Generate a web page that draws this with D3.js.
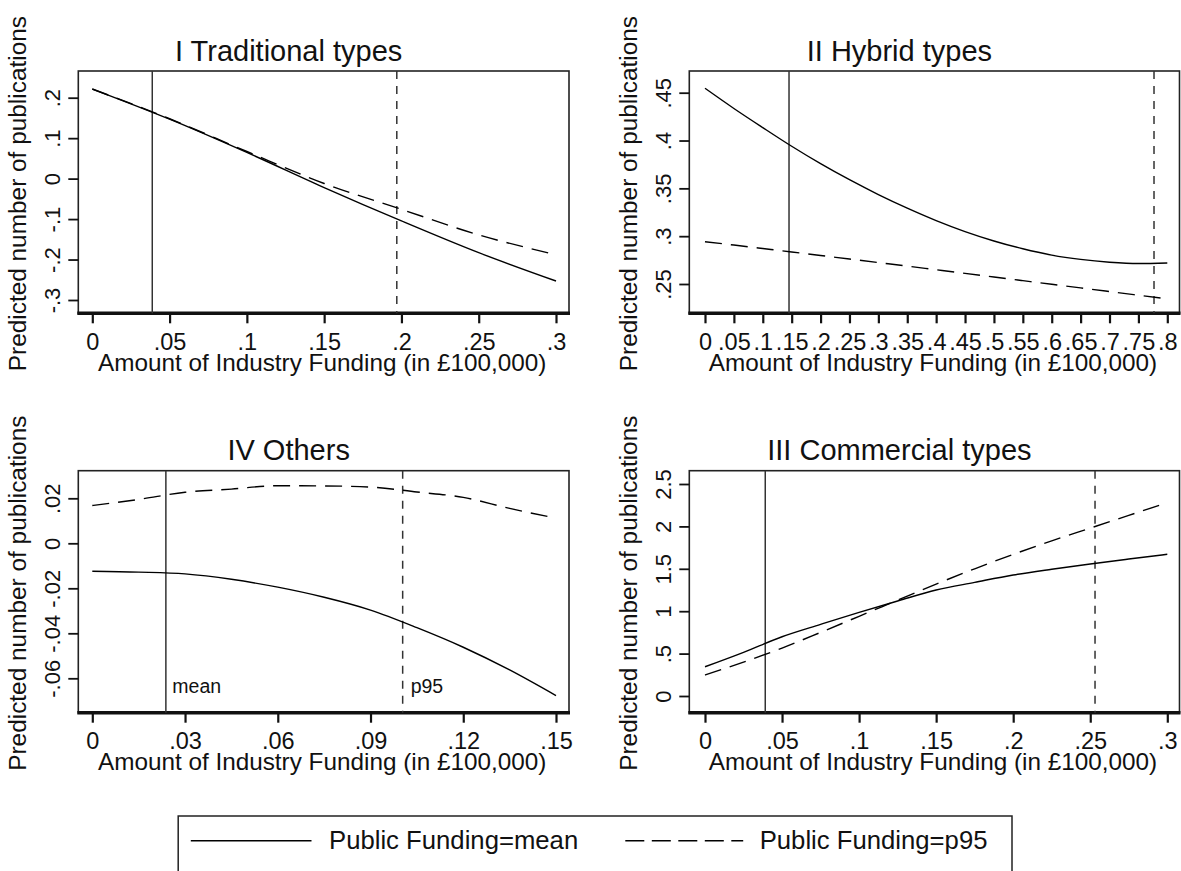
<!DOCTYPE html>
<html><head><meta charset="utf-8">
<script src="https://cdn.jsdelivr.net/npm/d3@7"></script>
<style>
body{margin:0;background:#fff}
svg{display:block}
text{font-family:"Liberation Sans",Arial,sans-serif;fill:#111}
</style>
</head><body><svg id="c" width="1181" height="871"></svg>
<script>
// ---------- DATA ----------
// Panel I Traditional types
const xI = [0, .05, .1, .15, .2, .25, .3];
const meanI = [0.2215, 0.147, 0.0647, -0.022, -0.1045, -0.183, -0.253];
const p95I  = [0.2215, 0.148, 0.067, -0.012, -0.076, -0.139, -0.188];
const xTicksI = [0, .05, .1, .15, .2, .25, .3];
const xLabelsI = ["0", ".05", ".1", ".15", ".2", ".25", ".3"];
const yTicksI = [-.3, -.2, -.1, 0, .1, .2];
const yLabelsI = ["-.3", "-.2", "-.1", "0", ".1", ".2"];

// Panel II Hybrid types
const xII = [0,.05,.1,.15,.2,.25,.3,.35,.4,.45,.5,.55,.6,.65,.7,.75,.8];
const meanII = [.4546,.4335,.4135,.3940,.3758,.3590,.3435,.3293,.3163,.3048,.2950,.2868,.2802,.2757,.2728,.2714,.2720];
const p95II  = [.2942,.2907,.2871,.2835,.2798,.2761,.2724,.2687,.2649,.2611,.2573,.2535,.2497,.2459,.2421,.2383,.2345];
const xTicksII = [0,.05,.1,.15,.2,.25,.3,.35,.4,.45,.5,.55,.6,.65,.7,.75,.8];
const xLabelsII = ["0",".05",".1",".15",".2",".25",".3",".35",".4",".45",".5",".55",".6",".65",".7",".75",".8"];
const yTicksII = [.25, .3, .35, .4, .45];
const yLabelsII = [".25", ".3", ".35", ".4", ".45"];

// Panel IV Others
const xIV = [0,.015,.03,.045,.06,.075,.09,.105,.12,.135,.15];
const meanIV = [-.0124,-.0128,-.0136,-.0160,-.0195,-.0240,-.0297,-.0375,-.0462,-.0563,-.0677];
const p95IV  = [.0168,.0195,.0227,.0241,.0256,.0255,.0250,.0228,.0204,.0155,.0112];
const xTicksIV = [0, .03, .06, .09, .12, .15];
const xLabelsIV = ["0", ".03", ".06", ".09", ".12", ".15"];
const yTicksIV = [-.06, -.04, -.02, 0, .02];
const yLabelsIV = ["-.06", "-.04", "-.02", "0", ".02"];

// Panel III Commercial types
const xIII = [0,.025,.05,.075,.1,.125,.15,.175,.2,.225,.25,.275,.3];
const meanIII = [.345,.515,.699,.845,.987,1.12,1.25,1.34,1.427,1.495,1.557,1.615,1.671];
const p95III  = [.248,.40,.565,.75,.94,1.13,1.32,1.50,1.67,1.83,1.98,2.13,2.28];
const xTicksIII = [0, .05, .1, .15, .2, .25, .3];
const xLabelsIII = ["0", ".05", ".1", ".15", ".2", ".25", ".3"];
const yTicksIII = [0, .5, 1, 1.5, 2, 2.5];
const yLabelsIII = ["0", ".5", "1", "1.5", "2", "2.5"];

// reference lines (industry funding at mean / p95), order: I, II, IV, III
const refMean = [0.0388, 0.1454, 0.0238, 0.0391];
const refP95  = [0.197, 0.777, 0.1004, 0.2531];

const titles = ["I Traditional types", "II Hybrid types", "IV Others", "III Commercial types"];
const yTitle = "Predicted number of publications";
const xTitle = "Amount of Industry Funding (in \u00A3100,000)";
const legendLabels = ["Public Funding=mean", "Public Funding=p95"];
const refNotes = ["mean", "p95"];

// ---------- LAYOUT ----------
const svg = d3.select("#c");
svg.append("rect").attr("width", 1181).attr("height", 871).attr("fill", "#fff");

const panels = [
  {t: titles[0], f: [78.3, 71, 569, 313.3], xr: [92.3, 556], yr: [300, 97.7],
   x: xI, m: meanI, p: p95I, xt: xTicksI, xl: xLabelsI, yt: yTicksI, yl: yLabelsI, rm: refMean[0], rp: refP95[0], notes: false},
  {t: titles[1], f: [689.3, 71, 1179.5, 313.3], xr: [705, 1167.3], yr: [284, 92.7],
   x: xII, m: meanII, p: p95II, xt: xTicksII, xl: xLabelsII, yt: yTicksII, yl: yLabelsII, rm: refMean[1], rp: refP95[1], notes: false},
  {t: titles[2], f: [78.3, 470.7, 569, 712.7], xr: [92.3, 556], yr: [678.3, 498.3],
   x: xIV, m: meanIV, p: p95IV, xt: xTicksIV, xl: xLabelsIV, yt: yTicksIV, yl: yLabelsIV, rm: refMean[2], rp: refP95[2], notes: true},
  {t: titles[3], f: [689.3, 470.7, 1179.5, 712.7], xr: [705, 1167.3], yr: [696, 484],
   x: xIII, m: meanIII, p: p95III, xt: xTicksIII, xl: xLabelsIII, yt: yTicksIII, yl: yLabelsIII, rm: refMean[3], rp: refP95[3], notes: false}
];

panels.forEach(P => {
  const [L, T, R, B] = P.f;
  const xs = d3.scaleLinear().domain([P.xt[0], P.xt[P.xt.length - 1]]).range(P.xr);
  const ys = d3.scaleLinear().domain([P.yt[0], P.yt[P.yt.length - 1]]).range(P.yr);
  const g = svg.append("g");

  // frame
  g.append("rect").attr("x", L).attr("y", T).attr("width", R - L).attr("height", B - T)
    .attr("fill", "none").attr("stroke", "#222").attr("stroke-width", 1.6);
  // thick x axis line
  g.append("line").attr("x1", L - 1).attr("x2", R + 1).attr("y1", B).attr("y2", B)
    .attr("stroke", "#111").attr("stroke-width", 3.6);

  // x axis
  const xa = g.append("g").attr("transform", `translate(0,${B})`)
    .call(d3.axisBottom(xs).tickValues(P.xt).tickFormat((d, i) => P.xl[i]).tickSize(10).tickSizeOuter(0));
  xa.select(".domain").remove();
  xa.selectAll(".tick line").attr("stroke", "#111").attr("stroke-width", 2.2);
  xa.selectAll(".tick text").attr("y", 36.5).attr("dy", 0).attr("font-size", 23.5)
    .style("font-family", '"Liberation Sans",Arial,sans-serif').attr("fill", "#111");

  // y axis
  const ya = g.append("g").attr("transform", `translate(${L},0)`)
    .call(d3.axisLeft(ys).tickValues(P.yt).tickFormat((d, i) => P.yl[i]).tickSize(10).tickSizeOuter(0));
  ya.select(".domain").remove();
  ya.selectAll(".tick line").attr("stroke", "#111").attr("stroke-width", 1.8);
  ya.selectAll(".tick text").attr("transform", "rotate(-90)").attr("x", 0).attr("y", -18.5).attr("dy", 0)
    .attr("text-anchor", "middle").attr("font-size", 22)
    .style("font-family", '"Liberation Sans",Arial,sans-serif').attr("fill", "#111");

  // reference lines
  g.append("line").attr("x1", xs(P.rm)).attr("x2", xs(P.rm)).attr("y1", T).attr("y2", B)
    .attr("stroke", "#333").attr("stroke-width", 1.5);
  g.append("line").attr("x1", xs(P.rp)).attr("x2", xs(P.rp)).attr("y1", T).attr("y2", B)
    .attr("stroke", "#333").attr("stroke-width", 1.5).attr("stroke-dasharray", "8,7");

  if (P.notes) {
    g.append("text").attr("x", xs(P.rm) + 6.5).attr("y", B - 19.4).attr("font-size", 19.5).text(refNotes[0]);
    g.append("text").attr("x", xs(P.rp) + 8).attr("y", B - 19.4).attr("font-size", 19.5).text(refNotes[1]);
  }

  // data lines
  const line = d3.line().x((d, i) => xs(P.x[i])).y(d => ys(d)).curve(d3.curveMonotoneX);
  g.append("path").attr("d", line(P.m)).attr("fill", "none").attr("stroke", "#000").attr("stroke-width", 1.4);
  g.append("path").attr("d", line(P.p)).attr("fill", "none").attr("stroke", "#000").attr("stroke-width", 1.4)
    .attr("stroke-dasharray", "17,9");

  // titles
  const cx = (L + R) / 2;
  g.append("text").attr("x", cx - 35).attr("y", T - 10.3).attr("text-anchor", "middle")
    .attr("font-size", 29).text(P.t);
  g.append("text").attr("x", cx - 1.5).attr("y", B + 57.4).attr("text-anchor", "middle")
    .attr("font-size", 24.3).text(xTitle);
  g.append("text").attr("transform", `translate(${L - 52},${(T + B) / 2 + 1.5}) rotate(-90)`)
    .attr("text-anchor", "middle").attr("font-size", 24.4).text(yTitle);
});

// ---------- LEGEND ----------
const lg = svg.append("g");
lg.append("rect").attr("x", 178.2).attr("y", 816).attr("width", 1012 - 178.2).attr("height", 70)
  .attr("fill", "none").attr("stroke", "#222").attr("stroke-width", 1.5);
lg.append("line").attr("x1", 190.8).attr("x2", 311.5).attr("y1", 840.7).attr("y2", 840.7)
  .attr("stroke", "#000").attr("stroke-width", 1.4);
lg.append("text").attr("x", 329).attr("y", 849.3).attr("font-size", 25.7).text(legendLabels[0]);
lg.append("line").attr("x1", 625.3).attr("x2", 743.2).attr("y1", 840.7).attr("y2", 840.7)
  .attr("stroke", "#000").attr("stroke-width", 1.4).attr("stroke-dasharray", "19,7.5");
lg.append("text").attr("x", 759.7).attr("y", 849.3).attr("font-size", 25.7).text(legendLabels[1]);
</script>
</body></html>
